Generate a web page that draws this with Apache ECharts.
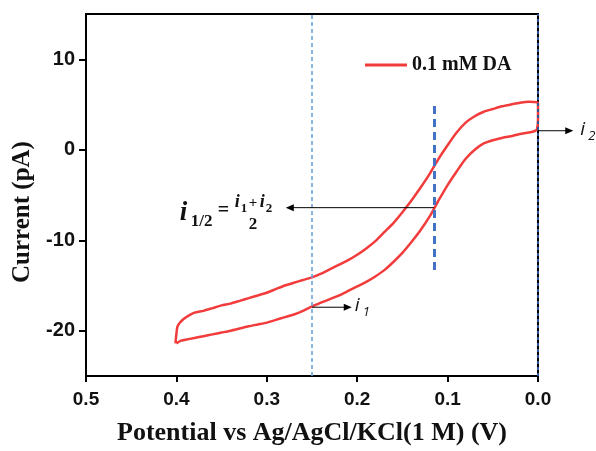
<!DOCTYPE html>
<html>
<head>
<meta charset="utf-8">
<script src="https://cdn.jsdelivr.net/npm/echarts@6/dist/echarts.min.js"></script>
<style>
html,body{margin:0;padding:0;background:#fff;}
#chart{width:596px;height:451px;}
</style>
</head>
<body>
<div id="chart"></div>
<script>
// ---- data ----
const seriesName = '0.1 mM DA';
const xTicks = [0.5, 0.4, 0.3, 0.2, 0.1, 0.0];
const yTicks = [-20, -10, 0, 10];

// lower branch, scanned from 0.4 V toward 0.0 V
const potentialLower = [0.400,0.395,0.390,0.380,0.370,0.360,0.350,0.340,0.330,0.320,0.310,0.300,0.290,0.280,0.270,0.260,0.250,0.240,0.230,0.220,0.210,0.200,0.190,0.180,0.170,0.160,0.150,0.140,0.130,0.120,0.110,0.100,0.090,0.080,0.070,0.060,0.050,0.040,0.030,0.020,0.010,0.003,0.001,0.000];
const currentLower   = [-21.4,-21.1,-21.0,-20.8,-20.6,-20.4,-20.2,-20.0,-19.75,-19.5,-19.3,-19.1,-18.8,-18.5,-18.2,-17.8,-17.3,-16.9,-16.5,-16.1,-15.6,-15.1,-14.6,-14.0,-13.3,-12.4,-11.4,-10.2,-8.9,-7.4,-5.6,-3.9,-2.4,-1.0,0.0,0.7,1.05,1.3,1.5,1.75,1.9,2.1,2.3,3.4];

// upper branch, scanned from 0.0 V back to 0.4 V
const potentialUpper = [0.000,0.010,0.020,0.030,0.040,0.050,0.060,0.070,0.080,0.090,0.100,0.110,0.120,0.130,0.140,0.150,0.160,0.170,0.180,0.190,0.200,0.210,0.220,0.230,0.240,0.250,0.260,0.270,0.280,0.290,0.300,0.310,0.320,0.330,0.340,0.350,0.360,0.370,0.380,0.386,0.392,0.396,0.399,0.401];
const currentUpper   = [5.2,5.3,5.2,5.0,4.8,4.5,4.2,3.7,3.0,1.9,0.5,-1.0,-2.7,-4.2,-5.6,-6.9,-8.1,-9.1,-10.1,-10.9,-11.6,-12.2,-12.7,-13.2,-13.7,-14.1,-14.4,-14.7,-15.0,-15.4,-15.8,-16.1,-16.4,-16.7,-17.0,-17.2,-17.5,-17.8,-18.0,-18.3,-18.7,-19.1,-19.6,-21.4];

// reference lines and annotation anchors (data units)
const lineI1Potential = 0.25;
const halfWavePotential = 0.115;
const halfWaveSpan = [-13.3, 5.2];
const i1Current = -17.4;
const i2Current = 2.1;
const iHalfCurrent = -6.4;
const i1ArrowEnd = 0.206;
const iHalfArrowEnd = 0.279;
const i2ArrowEnd = -0.039;

// ---- build ----
const loop = [];
for (let i = 0; i < potentialLower.length; i++) loop.push([potentialLower[i], currentLower[i]]);
for (let i = 0; i < potentialUpper.length; i++) loop.push([potentialUpper[i], currentUpper[i]]);

const chart = echarts.init(document.getElementById('chart'), null, {renderer: 'canvas'});
const RED = '#f23c3c';

const option = {
  animation: false,
  backgroundColor: '#fff',
  grid: {left: 86, right: 58, top: 14, bottom: 72, show: true, borderColor: '#000', borderWidth: 2, backgroundColor: 'transparent'},
  legend: {
    left: 360, top: 50,
    icon: 'rect', itemWidth: 42, itemHeight: 3, itemGap: 5,
    data: [seriesName],
    textStyle: {fontFamily: 'Liberation Serif', fontWeight: 'bold', fontSize: 20, color: '#111'}
  },
  xAxis: {
    type: 'value', min: 0, max: 0.5, interval: 0.1, inverse: true,
    name: 'Potential vs Ag/AgCl/KCl(1 M) (V)', nameLocation: 'middle', nameGap: 44,
    nameTextStyle: {fontFamily: 'Liberation Serif', fontWeight: 'bold', fontSize: 26, color: '#111'},
    axisLine: {show: true, onZero: false, lineStyle: {color: '#000', width: 2}},
    axisTick: {show: true, inside: false, length: 6, customValues: xTicks, lineStyle: {color: '#000', width: 2}},
    axisLabel: {margin: 14, fontFamily: 'Liberation Sans', fontWeight: 'bold', fontSize: 19, color: '#111',
      customValues: xTicks, formatter: v => v.toFixed(1)},
    splitLine: {show: false}
  },
  yAxis: {
    type: 'value', min: -25, max: 15,
    name: 'Current (pA)', nameLocation: 'middle', nameGap: 50, nameRotate: 90,
    nameTextStyle: {fontFamily: 'Liberation Serif', fontWeight: 'bold', fontSize: 25, color: '#111', padding: [0, 34, 0, 0]},
    axisLine: {show: true, onZero: false, lineStyle: {color: '#000', width: 2}},
    axisTick: {show: true, inside: false, length: 7, customValues: yTicks, lineStyle: {color: '#000', width: 2}},
    axisLabel: {margin: 11, fontFamily: 'Liberation Sans', fontWeight: 'bold', fontSize: 20, color: '#111',
      customValues: yTicks},
    splitLine: {show: false}
  },
  series: [{
    name: seriesName,
    type: 'line',
    data: loop,
    showSymbol: false,
    symbol: 'none',
    clip: false,
    smooth: 0.2,
    lineStyle: {color: RED, width: 2.5},
    itemStyle: {color: RED},
    z: 3,
    markLine: {
      silent: true, symbol: ['none', 'none'], animation: false,
      label: {show: false},
      data: [
        [{coord: [lineI1Potential, -25], lineStyle: {color: '#6aa2dc', width: 1.6, type: [4, 3]}},
         {coord: [lineI1Potential, 15]}],
        [{coord: [halfWavePotential, halfWaveSpan[0]], lineStyle: {color: '#4472c4', width: 3, type: [8, 5]}},
         {coord: [halfWavePotential, halfWaveSpan[1]]}],
        [{coord: [0, -25], lineStyle: {color: '#2f5597', width: 2, type: [3, 3]}},
         {coord: [0, 15]}]
      ]
    }
  }]
};
chart.setOption(option);

// ---- annotations positioned through the axes ----
function px(x, y) { return chart.convertToPixel({gridIndex: 0}, [x, y]); }
function arrow(p0, p1) {
  const dir = Math.sign(p1[0] - p0[0]);
  const tip = p1[0], y = p1[1];
  return [
    {type: 'line', shape: {x1: p0[0], y1: y, x2: tip - dir * 6, y2: y}, style: {stroke: '#000', lineWidth: 1}, z: 10},
    {type: 'polygon', shape: {points: [[tip, y], [tip - dir * 8, y - 3.5], [tip - dir * 8, y + 3.5]]}, style: {fill: '#000'}, z: 10}
  ];
}
function t(x, y, text, size, opts) {
  return {type: 'text', x: x, y: y, z: 10,
    style: Object.assign({text: text, fontSize: size, fill: '#111', textVerticalAlign: 'bottom'}, opts)};
}
const g = [];
const S = {fontFamily: 'Open Sans', fontStyle: 'italic'};
// i1
const a1 = px(lineI1Potential, i1Current), b1 = px(i1ArrowEnd, i1Current);
g.push(...arrow(a1, b1));
g.push(t(b1[0] + 3, b1[1] + 8, 'i', 19, S));
g.push(t(b1[0] + 11, b1[1] + 12, '1', 13, S));
// i2
const a2 = px(0, i2Current), b2 = px(i2ArrowEnd, i2Current);
g.push(...arrow(a2, b2));
g.push(t(b2[0] + 7, b2[1] + 8, 'i', 19, S));
g.push(t(b2[0] + 15, b2[1] + 12, '2', 13, S));
// i1/2 = (i1 + i2)/2
const ah = px(halfWavePotential, iHalfCurrent), bh = px(iHalfArrowEnd, iHalfCurrent);
g.push(...arrow(ah, bh));
const fx = bh[0], fy = bh[1] + 5;
const B = {fontFamily: 'Liberation Serif', fontWeight: 'bold'};
const BI = {fontFamily: 'Liberation Serif', fontWeight: 'bold', fontStyle: 'italic'};
g.push(t(fx - 106, fy + 14, 'i', 27, BI));
g.push(t(fx - 95, fy + 17, '1/2', 17, B));
g.push(t(fx - 68, fy + 8, '=', 20, B));
g.push(t(fx - 51, fy - 1, 'i', 18, BI));
g.push(t(fx - 45, fy + 2, '1', 13, B));
g.push(t(fx - 37, fy - 2, '+', 15, B));
g.push(t(fx - 26, fy - 1, 'i', 18, BI));
g.push(t(fx - 20, fy + 2, '2', 13, B));
g.push(t(fx - 37, fy + 20, '2', 17, B));

chart.setOption({graphic: {elements: g}});
</script>
</body>
</html>
